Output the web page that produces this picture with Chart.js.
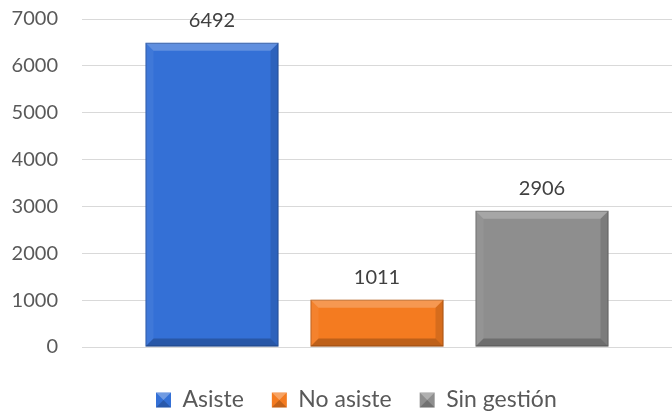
<!DOCTYPE html>
<html>
<head>
<meta charset="utf-8">
<script src="https://cdn.jsdelivr.net/npm/chart.js@4/dist/chart.umd.min.js"></script>
<style>
html,body{margin:0;padding:0;background:#fff;}
#wrap{width:672px;height:413px;position:relative;overflow:hidden;}
</style>
</head>
<body>
<div id="wrap"><canvas id="c" width="672" height="413"></canvas></div>
<script>
const categories = [''];
const seriesNames = ['Asiste', 'No asiste', 'Sin gestión'];
const seriesValues = [[6492], [1011], [2906]];
const seriesColors = ['#3470D6', '#F47B20', '#8E8E8E'];
const yTicks = [0, 1000, 2000, 3000, 4000, 5000, 6000, 7000];

const FONT = 'Lato, "Liberation Sans", sans-serif';

const bevelPlugin = {
  id: 'bevel',
  afterDatasetsDraw(chart) {
    const ctx = chart.ctx;
    chart.data.datasets.forEach((ds, i) => {
      const meta = chart.getDatasetMeta(i);
      meta.data.forEach((bar, j) => {
        const p = bar.getProps(['x', 'y', 'base', 'width'], true);
        const l = p.x - p.width / 2, r = p.x + p.width / 2, t = p.y, b = p.base;
        const bv = 8;
        ctx.save();
        ctx.fillStyle = 'rgba(255,255,255,0.22)';
        ctx.beginPath(); ctx.moveTo(l, t); ctx.lineTo(r, t); ctx.lineTo(r - bv, t + bv); ctx.lineTo(l + bv, t + bv); ctx.closePath(); ctx.fill();
        ctx.fillStyle = 'rgba(255,255,255,0.06)';
        ctx.beginPath(); ctx.moveTo(l, t); ctx.lineTo(l + bv, t + bv); ctx.lineTo(l + bv, b - bv); ctx.lineTo(l, b); ctx.closePath(); ctx.fill();
        ctx.fillStyle = 'rgba(0,0,0,0.12)';
        ctx.beginPath(); ctx.moveTo(r, t); ctx.lineTo(r - bv, t + bv); ctx.lineTo(r - bv, b - bv); ctx.lineTo(r, b); ctx.closePath(); ctx.fill();
        ctx.fillStyle = 'rgba(0,0,0,0.22)';
        ctx.beginPath(); ctx.moveTo(l, b); ctx.lineTo(l + bv, b - bv); ctx.lineTo(r - bv, b - bv); ctx.lineTo(r, b); ctx.closePath(); ctx.fill();
        ctx.strokeStyle = 'rgba(0,0,0,0.22)';
        ctx.lineWidth = 1;
        ctx.strokeRect(l + 0.5, t + 0.5, p.width - 1, b - t - 1);
        ctx.fillStyle = '#404040';
        ctx.font = '20px ' + FONT;
        ctx.textAlign = 'center';
        ctx.textBaseline = 'alphabetic';
        ctx.fillText(String(ds.data[j]), p.x, t - 16);
        ctx.restore();
      });
    });
  }
};

const legendShiftPlugin = {
  id: 'legendShift',
  beforeDraw(chart) {
    const lg = chart.legend;
    if (!lg || !lg.legendHitBoxes || !lg.legendHitBoxes.length) return;
    const hb = lg.legendHitBoxes[0];
    const dy = 400 - (hb.top + hb.height / 2);
    const dx = 156 - hb.left;
    lg.top += dy; lg.bottom += dy;
    lg.left += dx; lg.right += dx;
    lg.legendHitBoxes.forEach(h => { h.top += dy; h.left += dx; });
  },
  afterDraw(chart) {
    const lg = chart.legend;
    if (!lg || !lg.legendHitBoxes) return;
    const ctx = chart.ctx;
    lg.legendHitBoxes.forEach((hb) => {
      const s = 15;
      const x = hb.left, y = hb.top + (hb.height - s) / 2;
      ctx.save();
      ctx.fillStyle = 'rgba(255,255,255,0.30)';
      ctx.beginPath(); ctx.moveTo(x, y); ctx.lineTo(x + s, y); ctx.lineTo(x + s / 2, y + s / 2); ctx.closePath(); ctx.fill();
      ctx.fillStyle = 'rgba(0,0,0,0.2)';
      ctx.beginPath(); ctx.moveTo(x, y + s); ctx.lineTo(x + s, y + s); ctx.lineTo(x + s / 2, y + s / 2); ctx.closePath(); ctx.fill();
      ctx.restore();
    });
  }
};

new Chart(document.getElementById('c'), {
  type: 'bar',
  data: {
    labels: categories,
    datasets: seriesNames.map((n, i) => ({
      label: n,
      data: seriesValues[i],
      backgroundColor: seriesColors[i],
      borderWidth: 0,
      categoryPercentage: 0.839,
      barPercentage: 0.806
    }))
  },
  options: {
    responsive: false,
    animation: false,
    devicePixelRatio: 1,
    layout: { padding: { top: 19, right: 0, left: 12, bottom: 5 } },
    plugins: {
      legend: {
        position: 'bottom',
        labels: {
          boxWidth: 15, boxHeight: 15, padding: 28,
          color: '#595959',
          font: { family: FONT, size: 23 }
        }
      },
      tooltip: { enabled: false }
    },
    scales: {
      x: { display: false },
      y: {
        min: 0, max: 7000,
        afterBuildTicks(axis) { axis.ticks = yTicks.map(v => ({ value: v })); },
        afterFit(axis) { axis.width = 70; axis.paddingTop = 0; axis.paddingBottom = 0; },
        border: { display: false },
        grid: { color: '#D9D9D9', drawTicks: false, lineWidth: 1 },
        ticks: {
          padding: 24,
          color: '#595959',
          font: { family: FONT, size: 20 },
          callback: (v) => String(v)
        }
      }
    }
  },
  plugins: [bevelPlugin, legendShiftPlugin]
});
</script>
</body>
</html>
